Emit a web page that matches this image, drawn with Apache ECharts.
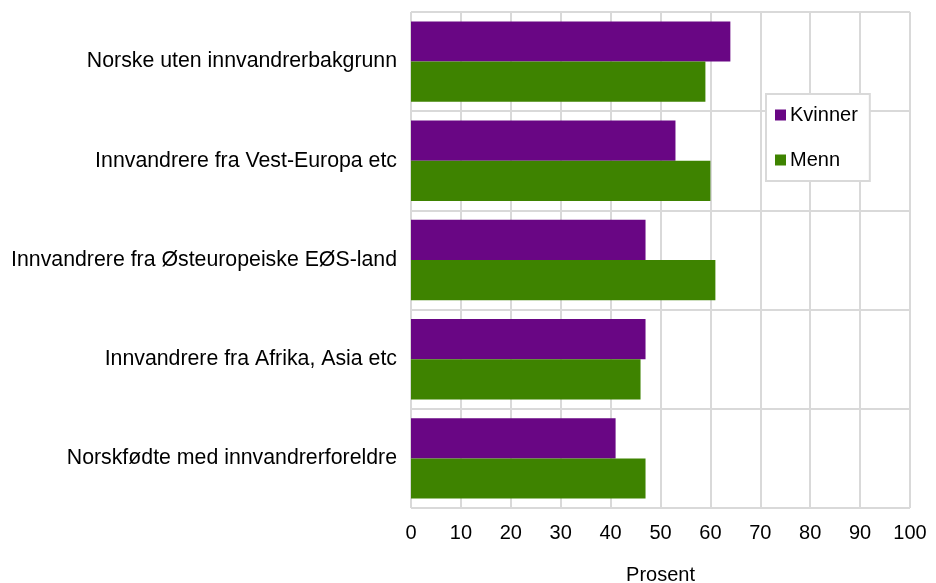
<!DOCTYPE html>
<html>
<head>
	<meta charset="utf-8">
	<title>Prosent etter kjønn og innvandrerbakgrunn</title>
	<style>
		html, body { margin: 0; padding: 0; background: #fff; }
		#chart { width: 936px; height: 583px; }
	</style>
</head>
<body>
<div id="chart"></div>
<script src="https://cdn.jsdelivr.net/npm/echarts@6/dist/echarts.min.js"></script>
<script>
var categories = [
	'Norske uten innvandrerbakgrunn',
	'Innvandrere fra Vest-Europa etc',
	'Innvandrere fra Østeuropeiske EØS-land',
	'Innvandrere fra Afrika, Asia etc',
	'Norskfødte med innvandrerforeldre'
];
var kvinner = [64, 53, 47, 47, 41];
var menn = [59, 60, 61, 46, 47];

var gridColor = '#d9d9d9';
var font = 'Liberation Sans, Arial, sans-serif';
var fs = 20;

var myChart = echarts.init(document.getElementById('chart'));

var option = {
	animation: false,
	textStyle: { fontFamily: font },
	grid: { left: 411, right: 26, top: 12, bottom: 75, containLabel: false, outerBoundsMode: 'none' },
	legend: {
		orient: 'vertical',
		left: 766,
		top: 94,
		padding: [11, 12, 11, 9],
		itemGap: 25,
		itemWidth: 11,
		itemHeight: 11,
		icon: 'rect',
		backgroundColor: '#fff',
		borderColor: gridColor,
		borderWidth: 2,
		textStyle: { fontSize: fs, color: '#000', fontFamily: font, padding: [0, 0, 0, -1] },
		data: ['Kvinner', 'Menn']
	},
	xAxis: {
		type: 'value',
		min: 0,
		max: 100,
		interval: 10,
		name: 'Prosent',
		nameLocation: 'middle',
		nameGap: 57,
		nameTextStyle: { fontSize: fs, color: '#000', fontFamily: font },
		axisLine: { show: false },
		axisTick: { show: false },
		axisLabel: { fontSize: fs, color: '#000', margin: 15, fontFamily: font },
		splitLine: { show: true, lineStyle: { color: gridColor, width: 2 } }
	},
	yAxis: {
		type: 'category',
		inverse: true,
		data: categories,
		axisLine: { show: false },
		axisTick: { show: false },
		axisLabel: { fontSize: 21.3, color: '#000', margin: 14, fontFamily: font },
		splitLine: { show: true, lineStyle: { color: gridColor, width: 2 } }
	},
	series: [
		{
			name: 'Kvinner',
			type: 'bar',
			data: kvinner,
			barCategoryGap: '19%',
			barGap: '0%',
			itemStyle: { color: '#690684' }
		},
		{
			name: 'Menn',
			type: 'bar',
			data: menn,
			barCategoryGap: '19%',
			barGap: '0%',
			itemStyle: { color: '#3e8300' }
		}
	]
};

myChart.setOption(option);
</script>
</body>
</html>
